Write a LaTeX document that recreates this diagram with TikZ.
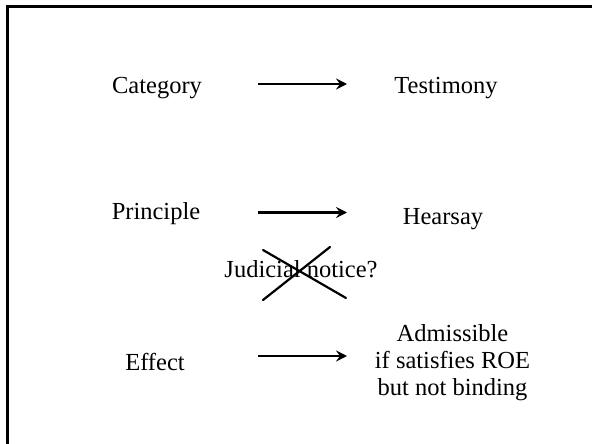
\documentclass[tikz,border=0pt]{standalone}
\usepackage{fontspec}
\setmainfont{Liberation Serif}
\usetikzlibrary{arrows.meta}
\begin{document}
\begin{tikzpicture}[x=1pt,y=-1pt,
  lbl/.style={anchor=base,inner sep=0pt,font=\fontsize{24.5}{29}\selectfont},
  arr/.style={line width=2.6pt,-{Stealth[length=11pt,width=11pt,inset=4pt]}},
  cross/.style={line width=2.2pt,line cap=round},
  frame/.style={line width=2.8pt,line join=miter}]
\useasboundingbox (0,0) rectangle (592,444);
% frame (only top and left visible)
\coordinate (ftr) at (592,6.5);
\coordinate (ftl) at (7.5,6.5);
\coordinate (fbl) at (7.5,444);
\draw[frame] (ftr) -- (ftl) -- (fbl);
% row 1
\node[lbl] (cat) at (157,93) {Category};
\node[lbl] (tes) at (446,93) {Testimony};
\coordinate (a1s) at (258,84);
\coordinate (a1e) at (347,84);
\draw[arr] (a1s) -- (a1e);
% row 2
\node[lbl] (pri) at (156,219) {Principle};
\node[lbl] (hea) at (443,224) {Hearsay};
\coordinate (a2s) at (258,212.5);
\coordinate (a2e) at (347,212.5);
\draw[arr] (a2s) -- (a2e);
% judicial notice crossed out
\node[lbl] (jud) at (301,277) {Judicial notice?};
\coordinate (x1a) at (263,250);
\coordinate (x1b) at (346,298);
\coordinate (x2a) at (330,247);
\coordinate (x2b) at (263,300);
\draw[cross] (x1a) -- (x1b);
\draw[cross] (x2a) -- (x2b);
% row 3
\node[lbl] (eff) at (155,370) {Effect};
\coordinate (a3s) at (258,356);
\coordinate (a3e) at (347,356);
\draw[arr] (a3s) -- (a3e);
\node[lbl] (adm1) at (452.5,341) {Admissible};
\node[lbl] (adm2) at (452.5,368) {if satisfies ROE};
\node[lbl] (adm3) at (452.5,395) {but not binding};
\end{tikzpicture}
\end{document}
